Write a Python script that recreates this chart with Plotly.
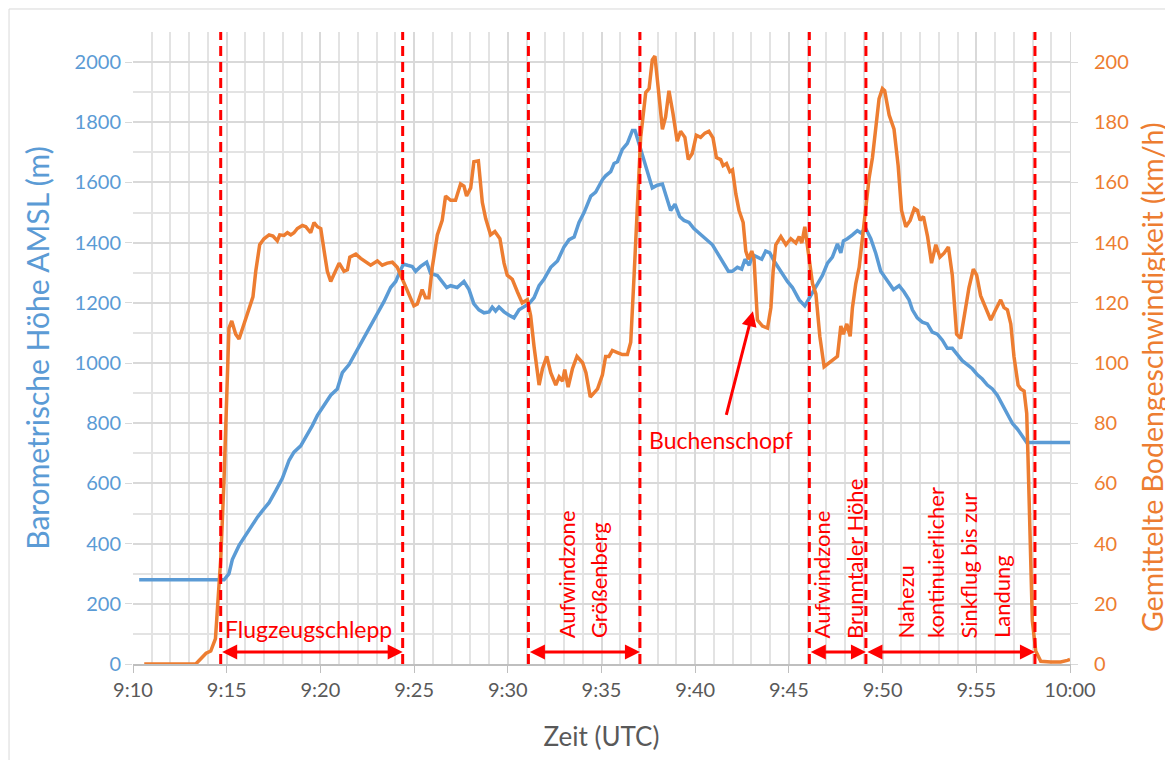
import plotly.graph_objects as go

# ---------------- data (minutes after 9:10 UTC) ----------------
alt_time = [0.33, 4.86, 5.12, 5.30, 5.66, 6.01, 6.37, 6.64, 6.90, 7.26, 7.62, 7.97, 8.33, 8.59, 8.95,
            9.22, 9.57, 9.84, 10.20, 10.55, 10.90, 11.17, 11.53, 11.89, 12.24, 12.56, 13.04, 13.39,
            13.75, 14.02, 14.20, 14.43, 14.65, 14.90, 15.08, 15.35, 15.67, 15.88, 16.24, 16.50,
            16.74, 16.95, 17.30, 17.66, 17.93, 18.19, 18.46, 18.73, 19.00, 19.17, 19.35, 19.53,
            19.80, 20.07, 20.33, 20.60, 20.86, 21.13, 21.40, 21.67, 21.93, 22.29, 22.65, 23.00,
            23.27, 23.54, 23.80, 24.07, 24.43, 24.69, 25.05, 25.22, 25.49, 25.67, 25.85, 26.11,
            26.38, 26.65, 26.79, 26.97, 27.18, 27.45, 27.71, 27.98, 28.25, 28.42, 28.69, 28.92,
            29.17, 29.40, 29.67, 29.93, 30.20, 30.56, 30.92, 31.18, 31.45, 31.77, 31.98, 32.25,
            32.48, 32.66, 32.88, 33.08, 33.32, 33.55, 33.76, 33.98, 34.21, 34.57, 34.92, 35.19,
            35.55, 35.85, 36.04, 36.26, 36.52, 36.79, 37.06, 37.32, 37.59, 37.77, 37.91, 38.12,
            38.39, 38.65, 38.83, 39.10, 39.37, 39.63, 39.90, 40.26, 40.58, 40.88, 41.14, 41.41,
            41.59, 41.85, 42.12, 42.39, 42.65, 42.92, 43.19, 43.45, 43.72, 43.99, 44.25, 44.52,
            44.79, 45.06, 45.32, 45.59, 45.86, 46.12, 46.39, 46.66, 46.93, 47.19, 47.46, 47.69,
            50.00]
altitude_m = [280, 280, 300, 347, 394, 428, 462, 488, 509, 536, 576, 617, 677, 704, 725,
              752, 792, 826, 860, 893, 914, 968, 995, 1035, 1076, 1109, 1163, 1204,
              1251, 1271, 1298, 1329, 1325, 1321, 1305, 1321, 1335, 1298, 1291, 1271,
              1251, 1257, 1251, 1271, 1244, 1197, 1177, 1167, 1170, 1186, 1173, 1186,
              1170, 1159, 1150, 1177, 1186, 1197, 1217, 1257, 1278, 1318, 1339, 1386,
              1410, 1419, 1467, 1500, 1555, 1568, 1609, 1622, 1636, 1663, 1669, 1710,
              1730, 1773, 1773, 1737, 1697, 1642, 1582, 1591, 1595, 1561, 1507, 1528,
              1487, 1474, 1467, 1447, 1433, 1413, 1393, 1366, 1339, 1305, 1305, 1318,
              1312, 1345, 1325, 1359, 1352, 1345, 1372, 1366, 1339, 1305, 1271, 1251,
              1210, 1190, 1210, 1231, 1264, 1291, 1332, 1352, 1396, 1366, 1406, 1413,
              1426, 1440, 1433, 1447, 1413, 1366, 1305, 1271, 1244, 1257, 1237, 1210,
              1177, 1150, 1136, 1130, 1103, 1096, 1076, 1049, 1049, 1028, 1008, 995,
              981, 961, 947, 927, 914, 893, 860, 826, 799, 781, 759, 736,
              736]

spd_time = [0.60, 3.35, 3.90, 4.15, 4.40, 4.68, 4.86, 5.00, 5.12, 5.27, 5.48, 5.66, 5.93, 6.19,
            6.40, 6.55, 6.76, 6.99, 7.26, 7.47, 7.70, 7.83, 8.06, 8.24, 8.42, 8.59, 8.77, 9.04,
            9.22, 9.48, 9.66, 9.84, 10.02, 10.20, 10.37, 10.55, 10.73, 11.00, 11.26, 11.44,
            11.57, 11.89, 12.15, 12.42, 12.68, 13.04, 13.30, 13.57, 13.84, 14.10, 14.37, 14.63,
            14.99, 15.17, 15.43, 15.61, 15.79, 15.97, 16.24, 16.50, 16.68, 16.95, 17.21, 17.48,
            17.66, 17.80, 18.02, 18.19, 18.43, 18.64, 18.82, 19.08, 19.31, 19.58, 19.80, 19.97,
            20.24, 20.51, 20.77, 21.04, 21.22, 21.40, 21.67, 21.85, 22.08, 22.29, 22.56, 22.74,
            22.92, 23.04, 23.22, 23.45, 23.69, 23.99, 24.17, 24.40, 24.62, 24.79, 25.05, 25.22,
            25.40, 25.58, 25.85, 26.11, 26.38, 26.56, 26.74, 26.91, 27.09, 27.36, 27.54, 27.71,
            27.85, 28.03, 28.25, 28.42, 28.60, 28.81, 29.04, 29.22, 29.45, 29.63, 29.84, 30.06,
            30.29, 30.52, 30.73, 30.95, 31.13, 31.36, 31.49, 31.67, 31.85, 31.99, 32.17, 32.34,
            32.56, 32.70, 32.84, 33.02, 33.14, 33.32, 33.59, 33.86, 34.04, 34.16, 34.30, 34.57,
            34.84, 35.10, 35.37, 35.55, 35.69, 35.85, 36.04, 36.26, 36.44, 36.65, 36.88, 37.15,
            37.42, 37.59, 37.77, 37.91, 38.09, 38.27, 38.39, 38.57, 38.75, 38.93, 39.10, 39.28,
            39.46, 39.64, 39.81, 39.99, 40.11, 40.35, 40.61, 40.83, 41.01, 41.24, 41.47, 41.69,
            41.86, 42.00, 42.18, 42.40, 42.61, 42.84, 43.06, 43.28, 43.51, 43.72, 43.95, 44.16,
            44.38, 44.61, 44.84, 45.02, 45.23, 45.50, 45.77, 46.03, 46.30, 46.48, 46.66, 46.84,
            47.01, 47.23, 47.37, 47.55, 47.69, 47.76, 47.87, 47.99, 48.17, 48.44, 48.97, 49.50,
            49.86, 50.00]
speed_kmh = [0, 0, 3.6, 4.3, 8.4, 34.7, 61.7, 94, 111.6, 114, 109.6, 108, 113, 118,
             122, 130.5, 139.3, 141.3, 142.6, 142.2, 140.6, 142.6, 142.4, 143.3, 142.6, 143.3, 144.7, 145.7,
             145.3, 143.3, 146.7, 145.3, 144.7, 137.2, 130.5, 127.1, 129.8, 133.2, 130.5, 131.0,
             135.2, 136.2, 134.8, 133.5, 132.5, 133.9, 132.5, 133.2, 133.5, 131.8, 127.8, 124.4,
             119, 119.6, 124.4, 121.7, 121.7, 131.8, 142.6, 147.4, 155.5, 154.1, 154.1, 159.5,
             158.8, 155.5, 158.2, 166.9, 167.2, 153.4, 148, 142.6, 143.7, 141.3, 133.2, 129.2,
             127.8, 123.7, 120, 121, 115.7, 105.5, 92.7, 98.1, 102.2, 96.8, 92.7, 95.4,
             94, 97.8, 92, 98.1, 102.2, 100.1, 96.8, 88.7, 90, 91.4, 96.1, 102.2,
             102.2, 104.2, 103.5, 102.8, 102.8, 106.9, 129.2, 153.4, 175, 189.9, 191.2, 200.7,
             202, 191.2, 177.7, 181.8, 190.5, 183.1, 173.7, 177, 175, 167.6, 169.6, 175.7,
             175, 176.4, 177, 174.8, 168.3, 167.6, 165.6, 166.3, 163.6, 164.2, 156.1, 150.7,
             146.7, 137.2, 134.5, 137.2, 134.5, 114.3, 112.3, 111.6, 118.4, 130.5, 139.3, 142,
             139.3, 141.3, 139.9, 142, 139.9, 145.3, 136.5, 126.4, 123, 108.9, 98.8, 100.1,
             101.5, 102.2, 112.3, 109.6, 113, 108.9, 118.4, 126.4, 131.8, 142.6, 150.7, 161.5,
             168.3, 179.7, 187.8, 191.2, 190.5, 182.4, 177.7, 165.6, 150.7, 145.3, 147.4, 151.4,
             150.7, 147.4, 148.7, 142, 133.2, 139.3, 135.2, 136.5, 138.6, 129.2, 109.6, 108.2,
             115.7, 125.1, 131.2, 129.2, 122.4, 118.4, 114.3, 117.7, 121, 118.4, 117.7, 113,
             102.2, 92.7, 91.4, 90.7, 83.3, 68.4, 41.4, 14.4, 4.3, 0.9, 0.7, 0.7,
             1.2, 1.5]

tick_minutes = [0, 5, 10, 15, 20, 25, 30, 35, 40, 45, 50]
tick_labels = ["9:10", "9:15", "9:20", "9:25", "9:30", "9:35", "9:40", "9:45", "9:50", "9:55", "10:00"]

# phase boundaries (minutes after 9:10)
phase_bounds = [4.68, 14.39, 21.10, 27.05, 36.09, 39.11, 48.13]
phase_arrows = [(0, 1), (2, 3), (4, 5), (5, 6)]

BLUE = "#5B9BD5"
ORANGE = "#ED7D31"
RED = "#FF0000"
GRAY = "#595959"
FONT = "Lato, Carlito, Calibri, sans-serif"

fig = go.Figure()
fig.add_trace(go.Scatter(x=alt_time, y=altitude_m, mode="lines", name="Höhe",
                         line=dict(color=BLUE, width=3.5), yaxis="y"))
fig.add_trace(go.Scatter(x=spd_time, y=speed_kmh, mode="lines", name="Geschwindigkeit",
                         line=dict(color=ORANGE, width=3.5), yaxis="y2"))

shapes = []
for b in phase_bounds:
    shapes.append(dict(type="line", xref="x", yref="paper", x0=b, x1=b, y0=0, y1=1,
                       line=dict(color=RED, width=3, dash="10px,6px"), layer="above"))
# chart border
shapes.append(dict(type="rect", xref="paper", yref="paper", x0=-0.1323, x1=1.2, y0=-0.3, y1=1.0364,
                   line=dict(color="#D9D9D9", width=1), fillcolor="rgba(0,0,0,0)", layer="below"))

annotations = []
ARROW_Y = 40
for a, b in phase_arrows:
    annotations.append(dict(x=phase_bounds[b], y=ARROW_Y, ax=phase_bounds[a], ay=ARROW_Y,
                            xref="x", yref="y", axref="x", ayref="y", text="", showarrow=True,
                            arrowside="end+start", arrowhead=2, startarrowhead=2,
                            arrowsize=1, startarrowsize=1, arrowwidth=3, arrowcolor=RED,
                            standoff=0, startstandoff=0))

hfont = dict(family=FONT, size=23, color=RED)
rfont = dict(family=FONT, size=22, color=RED)
annotations.append(dict(x=9.35, y=115, xref="x", yref="y", text="Flugzeugschlepp", showarrow=False,
                        font=hfont, xanchor="center", yanchor="middle"))
rot_labels = [(23.15, "Aufwindzone"), (24.84, "Größenberg"),
              (36.76, "Aufwindzone"), (38.50, "Brunntaler Höhe"),
              (41.20, "Nahezu"), (42.80, "kontinuierlicher"), (44.56, "Sinkflug bis zur"),
              (46.32, "Landung")]
for xpos, txt in rot_labels:
    annotations.append(dict(x=xpos, y=78, xref="x", yref="y", text=txt, showarrow=False,
                            textangle=-90, font=rfont, xanchor="center", yanchor="bottom"))
annotations.append(dict(x=31.4, y=745, xref="x", yref="y", text="Buchenschopf", showarrow=False,
                        font=hfont, xanchor="center", yanchor="middle"))
annotations.append(dict(x=33.08, y=1172, xref="x", yref="y", ax=-27, ay=105, text="",
                        showarrow=True, arrowhead=2, arrowsize=1, arrowwidth=3, arrowcolor=RED,
                        standoff=0))
# right axis title (placed like the original, slightly below centre)
annotations.append(dict(x=1.0875, y=0.454, xref="paper", yref="paper",
                        text="Gemittelte Bodengeschwindigkeit (km/h)", showarrow=False,
                        textangle=-90, font=dict(family=FONT, size=28.5, color=ORANGE),
                        xanchor="center", yanchor="middle"))

fig.update_layout(
    width=1165, height=752,
    margin=dict(l=125, r=103, t=24, b=96, autoexpand=False),
    paper_bgcolor="white", plot_bgcolor="white",
    showlegend=False,
    font=dict(family=FONT, color=GRAY),
    shapes=shapes, annotations=annotations,
    xaxis=dict(range=[0, 50], tickvals=tick_minutes, ticktext=tick_labels, automargin=False,
               tickfont=dict(size=20, color=GRAY),
               title=dict(text="Zeit (UTC)", font=dict(size=26, color=GRAY), standoff=28),
               showgrid=True, gridcolor="#D9D9D9", gridwidth=1.5,
               minor=dict(dtick=1, showgrid=True, gridcolor="#E3E3E3", gridwidth=1.5),
               showline=True, linecolor="#BFBFBF", linewidth=1.5,
               ticks="outside", ticklen=7, tickcolor="#BFBFBF", zeroline=False),
    yaxis=dict(range=[0, 2100], tickvals=list(range(0, 2001, 200)), automargin=False,
               tickfont=dict(size=20, color=BLUE),
               title=dict(text="Barometrische Höhe AMSL (m)", font=dict(size=30, color=BLUE), standoff=16),
               showgrid=True, gridcolor="#D9D9D9", gridwidth=1.5,
               minor=dict(dtick=100, tick0=0, showgrid=True, gridcolor="#E3E3E3", gridwidth=1.5),
               ticks="outside", ticklen=7, tickcolor="#D9D9D9", zeroline=False, showline=False),
    yaxis2=dict(range=[0, 210], tickvals=list(range(0, 201, 20)), overlaying="y", side="right",
                automargin=False,
                tickfont=dict(size=20, color=ORANGE),
                showgrid=False, ticks="outside", ticklen=7, tickcolor="#D9D9D9",
                ticklabelstandoff=12, zeroline=False, showline=True, linecolor="#D9D9D9"),
)

fig.write_html("out.html")
